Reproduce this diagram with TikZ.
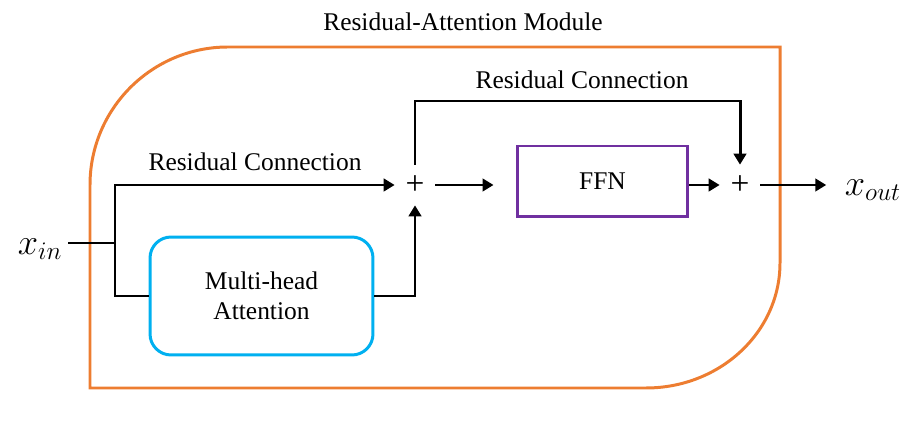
\documentclass[tikz,border=0pt]{standalone}
\usepackage{fontspec}
\setmainfont{Liberation Serif}
\usetikzlibrary{arrows.meta}

\begin{document}
\begin{tikzpicture}[x=0.02cm,y=0.02cm,font=\fontsize{14.5}{17}\selectfont,
bloc/.style={draw,line width=1.7pt,align=center},
somme/.style={inner sep=0pt,minimum size=0.8cm,font=\fontsize{19}{22}\selectfont},
trait/.style={line width=1.7pt},
fleche/.style={trait,-{Triangle[length=2.2mm,width=2.5mm]}}]
\definecolor{orange}{RGB}{237,125,49}
\definecolor{cyan}{RGB}{0,176,240}
\definecolor{violet}{RGB}{112,48,160}
\useasboundingbox (0,0) rectangle (913,429);
% cadre du module
\node (titre) at (463,407) {Residual-Attention Module};
\draw[trait,orange] (90,41) -- (90,244) arc[start angle=180,end angle=90,radius=138]
  -- (780,382) -- (780,166) arc[start angle=0,end angle=-90,x radius=134,y radius=125] -- cycle;
% blocs
\node[bloc,draw=cyan,rounded corners=0.42cm,minimum width=4.46cm,minimum height=2.36cm] (mha) at (261.5,133) {Multi-head\\Attention};
\node[bloc,draw=violet,minimum width=3.42cm,minimum height=1.42cm] (ffn) at (602.5,247.5) {FFN};
\node[somme] (plus1) at (415,244) {+};
\node[somme] (plus2) at (740,244) {+};
\node[font=\fontsize{20}{24}\selectfont] (xin) at (40,180) {$x_{in}$};
\node[font=\fontsize{20}{24}\selectfont] (xout) at (873,239) {$x_{out}$};
\coordinate (fourche) at (115,186);
\coordinate (coude) at (740,328);
% connexions
\draw[trait] (xin.east |- fourche) -- (fourche);
\draw[fleche] (mha.west) -| (fourche) |- (plus1.west);
\node (res1) at (255,267) {Residual Connection};
\draw[fleche] (mha.east) -| (plus1.south);
\draw[fleche,shorten >=0.44cm] (plus1.east) -- (plus1.east -| ffn.west);
\draw[fleche] (plus1.north) |- (coude) -- (plus2.north);
\node (res2) at (582,349) {Residual Connection};
\draw[fleche] (ffn.east |- plus2) -- (plus2.west);
\draw[fleche,shorten >=0.25cm] (plus2.east) -- (plus2.east -| xout.west);
\end{tikzpicture}
\end{document}
